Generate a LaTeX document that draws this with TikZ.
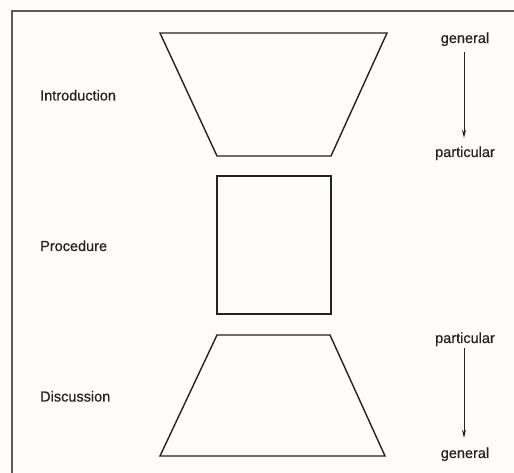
\documentclass[tikz,border=0pt]{standalone}
\usepackage{fontspec}
\setmainfont{Liberation Sans}
\newfontfamily\labfont[FakeBold=0.6]{Liberation Sans}
\usetikzlibrary{arrows.meta}
\definecolor{paper}{RGB}{253,252,248}
\definecolor{ink}{RGB}{35,35,35}
\begin{document}
\begin{tikzpicture}[x=1pt,y=1pt,
  frame/.style={draw=ink!75, line width=1.5pt},
  outline/.style={draw=ink, line width=1.4pt, line join=miter},
  lab/.style={font=\labfont\fontsize{14.5}{17}\selectfont, text=ink, inner sep=0pt},
  flow/.style={draw=ink, line width=0.8pt, -{Stealth[length=8pt,width=4pt]}}]
\fill[paper] (0,0) rectangle (514,473);
\useasboundingbox (0,0) rectangle (514,473);
\draw[frame] (12,0) -- (12,462) -- (514,462);
% shapes
\draw[outline] (160,440) -- (387,440) -- (331,317) -- (217,317) -- cycle;
\draw[outline] (217,297) rectangle (331,159);
\draw[outline] (217,138) -- (330,138) -- (385,17) -- (160,17) -- cycle;
% left labels
\node[lab, anchor=base west] (intro) at (40,372.5) {Introduction};
\node[lab, anchor=base west] (proc) at (40,222) {Procedure};
\node[lab, anchor=base west] (disc) at (40,71.5) {Discussion};
% right labels
\node[lab, anchor=base] (g1) at (465,430) {general};
\node[lab, anchor=base] (p1) at (465,316) {particular};
\node[lab, anchor=base] (p2) at (465,130) {particular};
\node[lab, anchor=base] (g2) at (465,15) {general};
\draw[flow, shorten <=6pt, shorten >=8.5pt] ([xshift=-1pt]g1.south) -- ([xshift=-1pt]p1.north);
\draw[flow, shorten <=2pt, shorten >=9.5pt] ([xshift=-1pt]p2.south) -- ([xshift=-1pt]g2.north);
\end{tikzpicture}
\end{document}
